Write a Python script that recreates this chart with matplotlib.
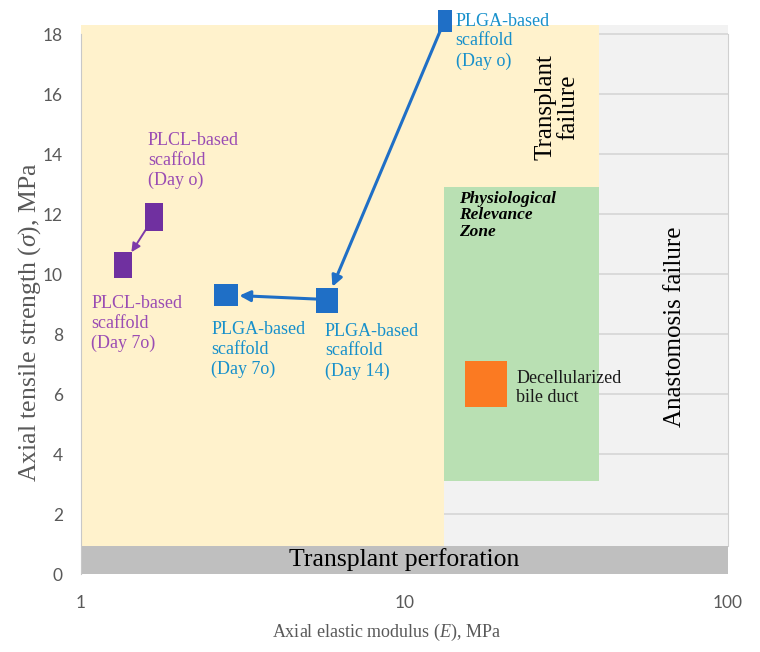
import matplotlib
matplotlib.use("Agg")
import matplotlib.pyplot as plt
import numpy as np

# scaffold data: axial elastic modulus E (MPa) vs axial tensile strength sigma (MPa)
plga_days = ["Day o", "Day 14", "Day 7o"]
plga_E = [13.3, 5.76, 2.81]
plga_sigma = [18.45, 9.15, 9.3]

plcl_days = ["Day o", "Day 7o"]
plcl_E = [1.68, 1.35]
plcl_sigma = [11.9, 10.3]

duct_E = [17.9]
duct_sigma = [6.35]

# zone boundaries
E_min, E_max = 1, 100
E_anastomosis = 13.2      # right limit of transplant-failure zone (lower part)
E_zone_right = 40         # right limit of physiological zone
sigma_perforation = 0.95
sigma_zone = (3.1, 12.9)
sigma_top = 18.3

yticks = [0, 2, 4, 6, 8, 10, 12, 14, 16, 18]
xticks = [1, 10, 100]

plt.rcParams["mathtext.fontset"] = "custom"
plt.rcParams["mathtext.rm"] = "Liberation Serif"
plt.rcParams["mathtext.it"] = "Liberation Serif:italic"

SERIF = "Liberation Serif"
BLUE = "#1f6fc6"
BLUE_TXT = "#1790cb"
PURPLE = "#7030a0"
PURPLE_TXT = "#9a4cb3"
ORANGE = "#fb7a22"
YELLOW = "#fff2cc"
GREEN = "#b9e0b3"
LIGHT = "#f2f2f2"
BAND = "#bfbfbf"
GRAY_TXT = "#595959"

fig = plt.figure(figsize=(7.6, 6.52), dpi=100)
ax = fig.add_axes([0.1066, 0.1196, 0.8513, 0.842])
ax.set_xscale("log")
ax.set_xlim(E_min, E_max)
ax.set_ylim(0, sigma_top)
ax.set_facecolor(LIGHT)

# horizontal gridlines (visible over the grey anastomosis zone)
ax.set_axisbelow(True)
ax.yaxis.grid(True, color="#d6d6d6", lw=1.2)
ax.xaxis.grid(False)

# zones
ax.fill_between([E_min, E_anastomosis], sigma_perforation, sigma_top,
                color=YELLOW, lw=0, zorder=1)
ax.fill_between([E_anastomosis, E_zone_right], sigma_zone[1], sigma_top,
                color=YELLOW, lw=0, zorder=1)
ax.fill_between([E_anastomosis, E_zone_right], sigma_zone[0], sigma_zone[1],
                color=GREEN, lw=0, zorder=1.1)
ax.fill_between([E_min, E_max], 0, sigma_perforation, color=BAND, lw=0,
                zorder=1.2, clip_on=False)


def rect_marker(aspect):
    # rectangle marker, aspect = width / height
    w, h = (aspect, 1.0) if aspect <= 1 else (1.0, 1.0 / aspect)
    return [(-w, -h), (w, -h), (w, h), (-w, h), (-w, -h)]


# arrows between time points
ax.annotate("", xy=(plga_E[1], plga_sigma[1]), xytext=(plga_E[0], plga_sigma[0]),
            arrowprops=dict(arrowstyle="-|>", color=BLUE, lw=2.2, mutation_scale=16,
                            shrinkA=7.5, shrinkB=10), zorder=3, annotation_clip=False)
ax.annotate("", xy=(plga_E[2], plga_sigma[2]), xytext=(plga_E[1], plga_sigma[1]),
            arrowprops=dict(arrowstyle="-|>", color=BLUE, lw=2.2, mutation_scale=16,
                            shrinkA=8, shrinkB=9.5), zorder=3)
ax.annotate("", xy=(plcl_E[1], plcl_sigma[1]), xytext=(plcl_E[0], plcl_sigma[0]),
            arrowprops=dict(arrowstyle="-|>", color="#7d3aaa", lw=1.4, mutation_scale=13,
                            shrinkA=10.5, shrinkB=11), zorder=3)

# markers
plga_shape = [(15 / 22, 15.8), (22 / 25, 18), (24 / 22, 17.3)]
for e, s, (asp, ms) in zip(plga_E, plga_sigma, plga_shape):
    ax.plot(e, s, linestyle="none", marker=rect_marker(asp), ms=ms, color=BLUE,
            mew=0, zorder=4, clip_on=False)
plcl_shape = [(19 / 28, 20), (18 / 27, 19.4)]
for e, s, (asp, ms) in zip(plcl_E, plcl_sigma, plcl_shape):
    ax.plot(e, s, linestyle="none", marker=rect_marker(asp), ms=ms, color=PURPLE,
            mew=0, zorder=4)
ax.plot(duct_E, duct_sigma, linestyle="none", marker=rect_marker(43 / 46), ms=33,
        color=ORANGE, mew=0, zorder=4)

# point labels (offsets in pixels from marker centres)
lab_kw = dict(textcoords="offset pixels", ha="left", va="top", fontsize=13,
              family=SERIF, zorder=5, annotation_clip=False, linespacing=1.22)
plga_offsets = [(11, 8), (-2, -23), (-15, -26)]
for e, s, d, off in zip(plga_E, plga_sigma, plga_days, plga_offsets):
    ax.annotate(f"PLGA-based\nscaffold\n({d})", (e, s), xytext=off,
                color=BLUE_TXT, **lab_kw)
plcl_offsets = [(-6, 85), (-32, -30)]
for e, s, d, off in zip(plcl_E, plcl_sigma, plcl_days, plcl_offsets):
    ax.annotate(f"PLCL-based\nscaffold\n({d})", (e, s), xytext=off,
                color=PURPLE_TXT, **lab_kw)
ax.annotate("Decellularized\nbile duct", (duct_E[0], duct_sigma[0]), xytext=(30, 14),
            color="#1a1a1a", **lab_kw)

# zone labels
ax.text(14.7, 12.78, "Physiological\nRelevance\nZone", family=SERIF, fontsize=12.5,
        style="italic", weight="bold", ha="left", va="top", linespacing=1.05, zorder=5)
ax.text(29.6, 15.57, "Transplant\nfailure", family=SERIF, fontsize=18, rotation=90,
        ha="center", va="center", linespacing=1.05, zorder=5)
ax.text(68.6, 8.23, "Anastomosis failure", family=SERIF, fontsize=18, rotation=90,
        ha="center", va="center", zorder=5)
ax.text(10, sigma_perforation / 2, "Transplant perforation", family=SERIF,
        fontsize=18.5, ha="center", va="center", zorder=5)

# axes styling
for side in ["top", "bottom"]:
    ax.spines[side].set_visible(False)
ax.spines["left"].set_bounds(0, 18)
ax.spines["left"].set_color("#c8c8c8")
ax.spines["right"].set_bounds(sigma_perforation, 18)
ax.spines["right"].set_color("#d0d0d0")
ax.spines["left"].set_zorder(6)

ax.set_xticks(xticks, [str(t) for t in xticks])
ax.xaxis.set_minor_locator(matplotlib.ticker.NullLocator())
ax.set_yticks(yticks, [str(t) for t in yticks])
ax.tick_params(length=0, labelcolor=GRAY_TXT, labelsize=12.5)
ax.tick_params(axis="x", pad=15)
ax.tick_params(axis="y", pad=13)
for lbl in ax.get_xticklabels() + ax.get_yticklabels():
    lbl.set_family("Lato")

ax.set_xlabel(r"Axial elastic modulus ($E$), MPa", family=SERIF, fontsize=13,
              color=GRAY_TXT, va="center")
ax.xaxis.set_label_coords(0.472, -0.106)
ax.set_ylabel(r"Axial tensile strength ($\sigma$), MPa", family=SERIF, fontsize=18.5,
              color=GRAY_TXT, va="center")
ax.yaxis.set_label_coords(-0.08, 0.459)

fig.savefig("out.png", dpi=100)
